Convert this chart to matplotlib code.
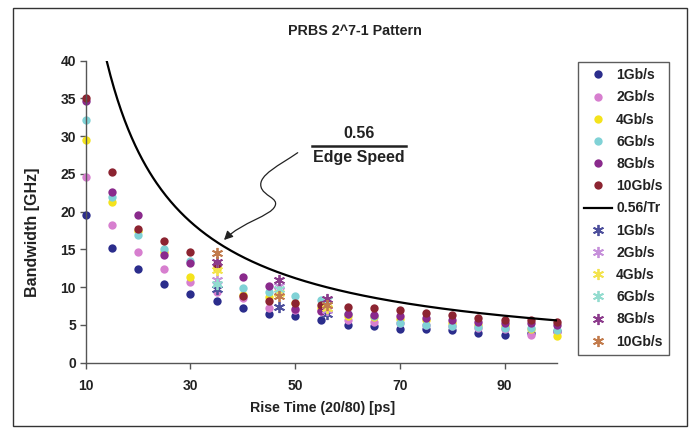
# PRBS 2^7-1 pattern: bandwidth vs rise time, with the 0.56/Tr limit

import matplotlib
matplotlib.use('Agg')
import matplotlib.pyplot as plt
import numpy as np
from matplotlib.path import Path
from matplotlib.patches import FancyArrowPatch, Rectangle
from matplotlib.lines import Line2D

plt.rcParams['font.family'] = ['Liberation Sans', 'DejaVu Sans']
plt.rcParams['font.weight'] = 'bold'

# ---------------- data ----------------
rise_time = [10, 15, 20, 25, 30, 35, 40, 45, 50, 55, 60, 65, 70, 75, 80, 85, 90, 95, 100]

bw_1g = [19.6, 15.2, 12.4, 10.4, 9.1, 8.2, 7.3, 6.5, 6.2, 5.6, 5.0, 4.8, 4.5, 4.4, 4.3, 3.9, 3.7, 3.9, 4.2]
bw_2g = [24.6, 18.2, 14.7, 12.4, 10.7, 9.4, 8.6, 7.3, 7.0, 6.8, 5.6, 5.4, 5.3, 5.0, 4.9, 4.6, 4.5, 3.7, 4.1]
bw_4g = [29.5, 21.3, 17.4, 14.6, 11.3, 12.4, 9.0, 8.7, 7.9, 7.3, 6.2, 6.0, 5.8, 5.6, 5.3, 5.0, 4.8, 4.4, 3.5]
bw_6g = [32.2, 22.0, 16.9, 15.1, 13.5, 10.3, 9.85, 9.3, 8.8, 8.3, 6.5, 6.2, 5.2, 5.0, 4.9, 4.7, 4.6, 4.6, 4.3]
bw_8g = [34.6, 22.6, 19.6, 14.2, 13.2, 13.1, 11.3, 10.1, 7.1, 6.8, 6.5, 6.3, 6.2, 5.9, 5.6, 5.4, 5.3, 5.2, 5.0]
bw_10g = [35.0, 25.2, 17.7, 16.1, 14.7, 12.9, 8.9, 8.2, 7.9, 7.6, 7.4, 7.2, 7.0, 6.6, 6.3, 5.9, 5.7, 5.6, 5.4]

# second measurement set (star markers)
rise_time_x = [35, 47, 56]
bwx_1g = [9.8, 7.4, 6.4]
bwx_2g = [11.0, 10.2, 7.0]
bwx_4g = [12.3, 9.2, 7.2]
bwx_6g = [10.4, 9.8, 8.3]
bwx_8g = [13.3, 10.9, 8.4]
bwx_10g = [14.5, 8.8, 7.6]

rates = ['1Gb/s', '2Gb/s', '4Gb/s', '6Gb/s', '8Gb/s', '10Gb/s']
edge_factor = 0.56  # BW = 0.56 / Tr

dot_colors = ['#2b2d8c', '#d77fcf', '#f4e31c', '#80d2d6', '#8a2a8c', '#8c2431']
star_colors = ['#4d4f9c', '#c690da', '#f3e34e', '#93dccf', '#8c3b8c', '#c27b4c']

W, H = 694, 428
fig = plt.figure(figsize=(W / 100, H / 100), dpi=100)

# axes placed in pixel terms
ax_l, ax_r, ax_t, ax_b = 85.7, 557.0, 60.7, 362.7
ax = fig.add_axes([ax_l / W, 1 - ax_b / H, (ax_r - ax_l) / W, (ax_b - ax_t) / H])

handles = []
for vals, lab, c in zip([bw_1g, bw_2g, bw_4g, bw_6g, bw_8g, bw_10g], rates, dot_colors):
    h, = ax.plot(rise_time, vals, 'o', color=c, ms=6, mec='none', label=lab, clip_on=False)
    handles.append(h)

tr = np.linspace(10, 100, 400)
h, = ax.plot(tr, edge_factor / tr * 1000, color='black', lw=1.6, label='0.56/Tr')
handles.append(h)

for vals, lab, c in zip([bwx_1g, bwx_2g, bwx_4g, bwx_6g, bwx_8g, bwx_10g], rates, star_colors):
    h, = ax.plot(rise_time_x, vals, linestyle='none', marker=(6, 2, 0), color=c,
                 ms=8, mew=1.3, label=lab)
    handles.append(h)

ax.set_xlim(10, 100)
ax.set_ylim(0, 40)
ax.set_xticks([10, 30, 50, 70, 90])
ax.set_yticks(range(0, 41, 5))
ax.tick_params(direction='out', length=4, width=1, color='#555555', labelsize=10, pad=3)
ax.tick_params(axis='x', pad=8)
for s in ['top', 'right']:
    ax.spines[s].set_visible(False)
for s in ['left', 'bottom']:
    ax.spines[s].set_color('#555555')
    ax.spines[s].set_linewidth(1.0)
for t in ax.get_xticklabels() + ax.get_yticklabels():
    t.set_fontweight('bold')
    t.set_color('#222222')

# titles
fig.text(355 / W, 1 - 31 / H, 'PRBS 2^7-1 Pattern', ha='center', va='center',
         fontsize=10.3, fontweight='bold', color='#222222')
fig.text(323 / W, 1 - 408 / H, 'Rise Time (20/80) [ps]', ha='center', va='center',
         fontsize=10.2, fontweight='bold', color='#222222')
fig.text(33 / W, 1 - 232 / H, 'Bandwidth [GHz]', ha='center', va='center', rotation=90,
         fontsize=11.5, fontweight='bold', color='#222222')

# fraction annotation
fig.text(359 / W, 1 - 134 / H, '0.56', ha='center', va='center', fontsize=11.5,
         fontweight='bold', color='#222222')
fig.text(359 / W, 1 - 157 / H, 'Edge Speed', ha='center', va='center', fontsize=11.5,
         fontweight='bold', color='#222222')
fig.add_artist(Line2D([312 / W, 406 / W], [1 - 146 / H, 1 - 146 / H], color='#222222',
                      lw=1.8, transform=fig.transFigure))

pts = [(297.7, 152.7), (280, 165), (258, 175), (261, 186.7),
       (263, 196), (279, 198), (275, 206),
       (271, 216), (242, 222), (224, 240)]
verts = [(x / W, 1 - y / H) for x, y in pts]
codes = [Path.MOVETO] + [Path.CURVE4] * 9
arrow = FancyArrowPatch(path=Path(verts, codes), arrowstyle='-|>', mutation_scale=13,
                        color='#222222', lw=0.9, transform=fig.transFigure)
fig.add_artist(arrow)

# legend
leg = ax.legend(handles=handles, loc='upper left', bbox_to_anchor=(578 / W, 1 - 62 / H),
                bbox_transform=fig.transFigure, frameon=True, fancybox=False,
                labelspacing=0.59, handlelength=2.0, handletextpad=0.3,
                borderpad=0.45, borderaxespad=0, prop={'weight': 'bold', 'size': 10})
leg.get_frame().set_edgecolor('#333333')
leg.get_frame().set_linewidth(1.0)
for t in leg.get_texts():
    t.set_color('#222222')

# outer frame
fig.add_artist(Rectangle((13 / W, 2 / H), (687 - 13) / W, (426 - 8) / H, fill=False,
                         edgecolor='#333333', lw=1.0, transform=fig.transFigure))

fig.savefig('out.png', dpi=100)
